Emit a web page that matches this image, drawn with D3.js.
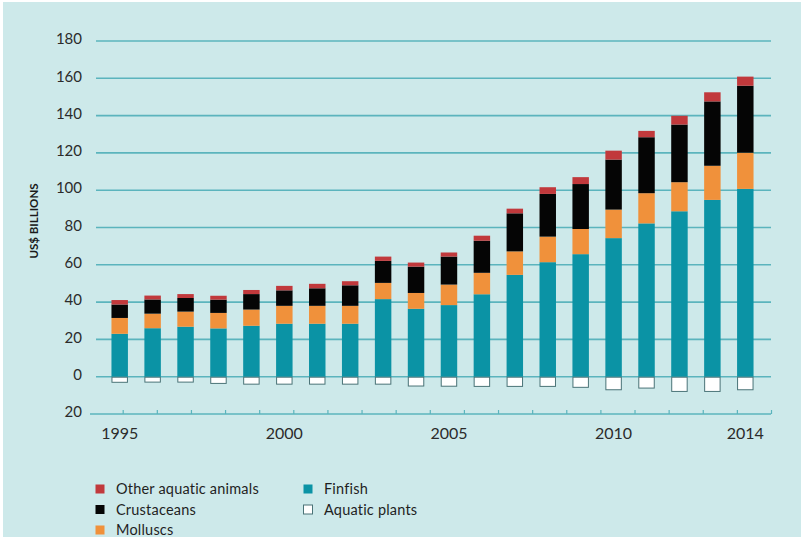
<!DOCTYPE html>
<html>
<head>
<meta charset="utf-8">
<script src="https://cdn.jsdelivr.net/npm/d3@7"></script>
<style>
  body { margin: 0; background: #fff; }
  svg { display: block; font-family: Lato, "Open Sans", sans-serif; }
</style>
</head>
<body>
<script>
// values, US$ billions
const years = [1995, 1996, 1997, 1998, 1999, 2000, 2001, 2002, 2003, 2004,
  2005, 2006, 2007, 2008, 2009, 2010, 2011, 2012, 2013, 2014]
const finfish = [23.0, 26.0, 26.8, 25.9, 27.3, 28.4, 28.4, 28.4, 41.6, 36.4,
  38.4, 44.2, 54.6, 61.4, 65.7, 74.3, 82.2, 88.7, 94.8, 100.7]
const molluscs = [8.5, 7.8, 8.1, 8.3, 8.7, 9.6, 9.6, 9.6, 8.7, 8.5,
  11.0, 11.5, 12.6, 13.7, 13.5, 15.3, 16.2, 15.6, 18.3, 19.4]
const crustaceans = [7.2, 7.6, 7.3, 7.1, 8.3, 8.3, 9.4, 11.0, 11.8, 14.1,
  15.0, 17.2, 20.4, 22.9, 24.1, 26.8, 30.0, 30.9, 34.5, 35.9]
const otherAnimals = [2.4, 2.1, 2.1, 2.1, 2.2, 2.4, 2.4, 2.2, 2.3, 2.2,
  2.2, 2.7, 2.5, 3.6, 3.7, 4.8, 3.4, 4.7, 4.9, 4.9]
const aquaticPlants = [3.0, 2.9, 2.9, 3.6, 4.0, 4.0, 4.0, 4.0, 4.0, 5.0,
  5.1, 5.2, 5.2, 5.2, 5.7, 7.0, 6.1, 7.9, 7.9, 7.0]
const yTicks = [-20, 0, 20, 40, 60, 80, 100, 120, 140, 160, 180]
const yearLabels = [1995, 2000, 2005, 2010, 2014]

const seriesNames = ['finfish', 'molluscs', 'crustaceans', 'other']
const colors = { finfish: '#0b93a5', molluscs: '#f0913b', crustaceans: '#050505', other: '#c1393c' }

const w = 804
const h = 543

const svg = d3.select('body').append('svg')
  .attr('width', w)
  .attr('height', h)

// panel background
svg.append('rect')
  .attr('x', 3).attr('y', 2)
  .attr('width', 798).attr('height', 535)
  .attr('fill', '#cde9ea')

const x = d3.scaleBand()
  .domain(years)
  .range([95, 770])
  .padding(0.5)

const y = d3.scaleLinear()
  .domain([-20, 180])
  .range([414, 41])

// gridlines
svg.append('g')
  .selectAll('line')
  .data(yTicks.filter(d => d >= 0))
  .join('line')
  .attr('x1', 96)
  .attr('x2', 771)
  .attr('y1', d => y(d))
  .attr('y2', d => y(d))
  .attr('stroke', '#5bb4bd')
  .attr('stroke-width', 1.6)

// y tick labels (the lowest one shows 20, no minus sign)
svg.append('g')
  .selectAll('text')
  .data(yTicks)
  .join('text')
  .attr('x', 82)
  .attr('y', d => y(d) - 2)
  .attr('dy', '0.35em')
  .attr('text-anchor', 'end')
  .attr('font-size', 15)
  .attr('fill', '#2b2b2b')
  .text(d => Math.abs(d))

svg.append('text')
  .attr('transform', 'translate(38,221) rotate(-90)')
  .attr('text-anchor', 'middle')
  .attr('font-size', 11.5)
  .attr('font-weight', 'bold')
  .attr('fill', '#1a1a1a')
  .text('US$ BILLIONS')

const table = years.map((yr, i) => ({
  year: yr,
  finfish: finfish[i],
  molluscs: molluscs[i],
  crustaceans: crustaceans[i],
  other: otherAnimals[i],
  plants: aquaticPlants[i]
}))

const stacked = d3.stack().keys(seriesNames)(table)

svg.append('g')
  .selectAll('g')
  .data(stacked)
  .join('g')
  .attr('fill', d => colors[d.key])
  .selectAll('rect')
  .data(d => d)
  .join('rect')
  .attr('x', d => x(d.data.year))
  .attr('width', x.bandwidth())
  .attr('y', d => y(d[1]))
  .attr('height', d => y(d[0]) - y(d[1]))

// aquatic plants below zero
svg.append('g')
  .selectAll('rect')
  .data(table)
  .join('rect')
  .attr('x', d => x(d.year) + 0.5)
  .attr('width', x.bandwidth() - 1)
  .attr('y', y(0) + 0.5)
  .attr('height', d => y(-d.plants) - y(0) - 0.5)
  .attr('fill', '#fff')
  .attr('stroke', '#4a7377')
  .attr('stroke-width', 1)

// bottom axis with upward ticks
const xTick = d3.scalePoint()
  .domain(years)
  .range([122.7, 771])

const xAxis = d3.axisBottom(xTick)
  .tickSize(-4)
  .tickFormat('')

const axisG = svg.append('g')
  .attr('transform', `translate(0, ${y(-20)})`)
  .call(xAxis)
axisG.select('.domain').remove()
axisG.selectAll('.tick line').attr('stroke', '#5bb4bd').attr('stroke-width', 1.2)
axisG.append('line')
  .attr('x1', 90).attr('x2', 771)
  .attr('stroke', '#5bb4bd')
  .attr('stroke-width', 1.6)

svg.append('g')
  .selectAll('text')
  .data(yearLabels)
  .join('text')
  .attr('x', d => x(d) + x.bandwidth() / 2)
  .attr('y', 438.5)
  .attr('text-anchor', 'middle')
  .attr('font-size', 16)
  .attr('fill', '#2b2b2b')
  .text(d => d)

// legend
const legend = [
  { name: 'Other aquatic animals', fill: colors.other, col: 0, row: 0 },
  { name: 'Crustaceans', fill: colors.crustaceans, col: 0, row: 1 },
  { name: 'Molluscs', fill: colors.molluscs, col: 0, row: 2 },
  { name: 'Finfish', fill: colors.finfish, col: 1, row: 0 },
  { name: 'Aquatic plants', fill: '#fff', col: 1, row: 1 }
]

const lg = svg.append('g')
  .selectAll('g')
  .data(legend)
  .join('g')
  .attr('transform', d => `translate(${d.col ? 303 : 95}, ${489 + d.row * 20.5})`)

lg.append('rect')
  .attr('x', 0.5).attr('y', -4.5)
  .attr('width', 9).attr('height', 9)
  .attr('fill', d => d.fill)
  .attr('stroke', d => d.fill === '#fff' ? '#4a7377' : 'none')

lg.append('text')
  .attr('x', 21)
  .attr('dy', '0.35em')
  .attr('font-size', 14.5)
  .attr('letter-spacing', 0.2)
  .attr('fill', '#1f1f1f')
  .text(d => d.name)
</script>
</body>
</html>
